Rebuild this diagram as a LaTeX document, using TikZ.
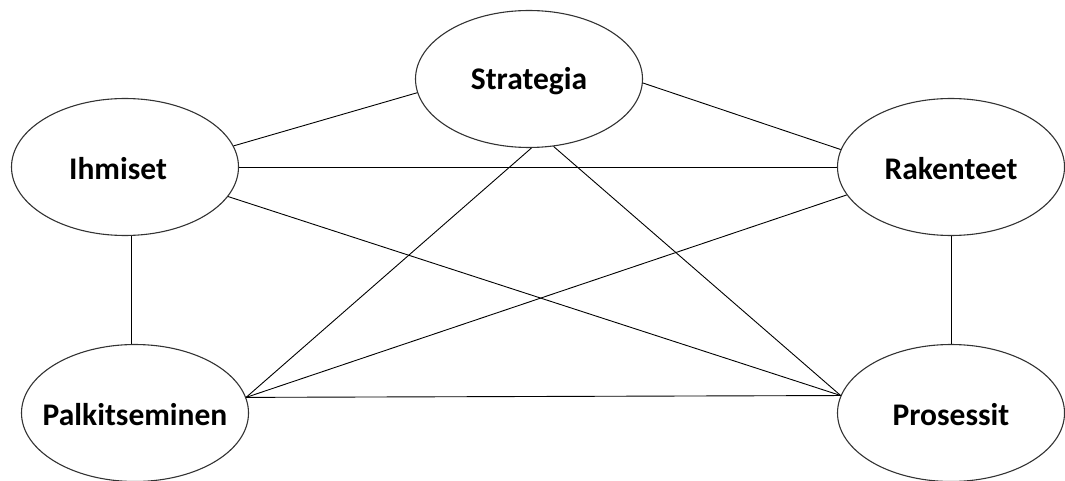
\documentclass[tikz,border=0pt]{standalone}
\usepackage{fontspec}
\setmainfont{Carlito}
\usetikzlibrary{shapes.geometric}
\begin{document}
\begin{tikzpicture}[x=1pt,y=-1pt,
  topic/.style={ellipse,draw=black!80,line width=1.1pt,
    minimum width=227pt,minimum height=137pt,inner sep=0pt,
    label={[topictext]center:#1}},
  topictext/.style={font=\fontsize{31.5}{36}\selectfont\bfseries,
    text=black,inner sep=0pt,yshift=-2pt},
  link/.style={draw=black,line width=0.9pt}]
  \useasboundingbox (0,0) rectangle (1065,481);
  % the five themes (fixed ellipse size, caption set as a centred label)
  \node[topic=Strategia]     (str) at (529,79)  {};
  \node[ellipse,draw=black!80,line width=1.1pt,minimum width=227pt,
        minimum height=137pt,inner sep=0pt,
        label={[topictext,xshift=-7pt]center:Ihmiset}] (ihm) at (125,167) {};
  \node[topic=Rakenteet]     (rak) at (951,167) {};
  \node[topic=Palkitseminen] (pal) at (135,413) {};
  \node[topic=Prosessit]     (pro) at (951,413) {};
  % connections between the themes
  \coordinate (ihmb) at ([xshift=6pt]ihm.south);
  \draw[link] (ihm.11)  -- (str.187);
  \draw[link] (ihm.east) -- (rak.west);
  \draw[link] (ihm.-16) -- (pro.171);
  \draw[link] (str.-2)  -- (rak.171);
  \draw[link] (str.-88) -- (pal.8);
  \draw[link] (str.-70) -- (pro.171);
  \draw[link] (rak.195) -- (pal.8);
  \draw[link] (pal.8)   -- (pro.171);
  \draw[link] (ihmb) -- (ihmb |- pal.north);
  \draw[link] (rak.south) -- (pro.north);
\end{tikzpicture}
\end{document}
